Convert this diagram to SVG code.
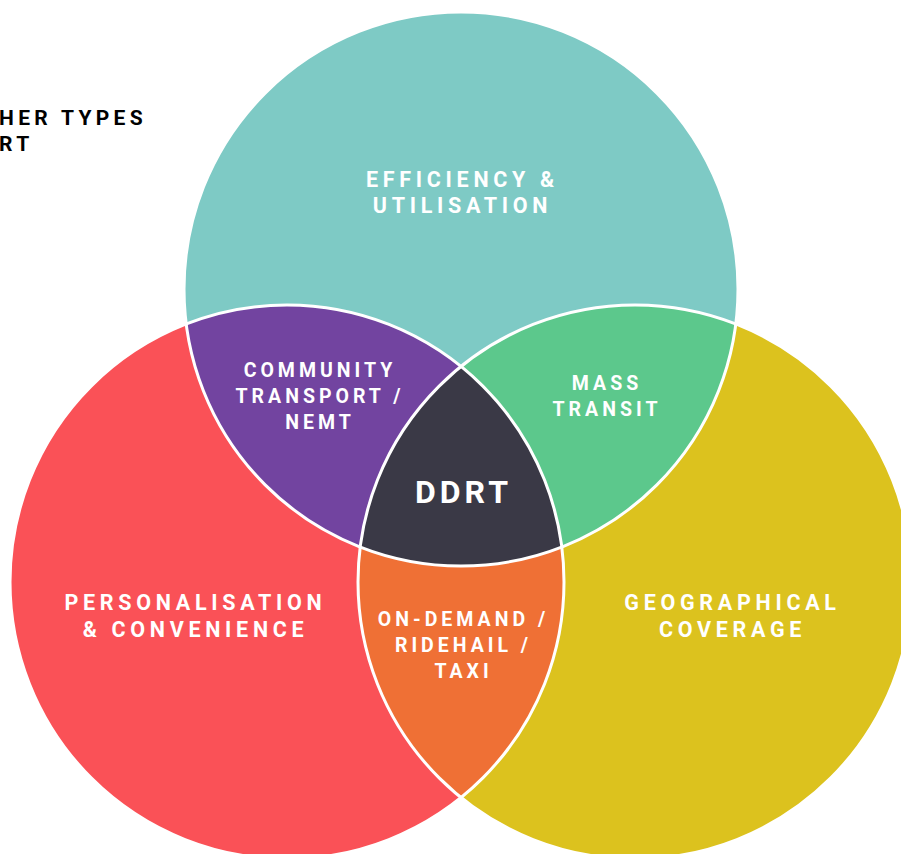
<svg xmlns="http://www.w3.org/2000/svg" width="901" height="854" viewBox="0 0 901 854">
  <style>
    .lbl { font-family: Roboto, "Liberation Sans", sans-serif; font-weight: 700; fill: #ffffff; text-anchor: middle; letter-spacing: 4.7px; font-size: 21.5px; }
    .lbl-sm { font-size: 19.5px; letter-spacing: 4px; }
    .core { font-size: 32px; letter-spacing: 4px; }
    .title { font-family: Roboto, "Liberation Sans", sans-serif; font-weight: 700; fill: #000000; font-size: 21px; letter-spacing: 4.3px; }
    .ring { fill: none; stroke: #ffffff; stroke-width: 3; }
  </style>
  <rect width="901" height="854" fill="#ffffff"/>

  <!-- heading, partially outside the canvas -->
  <g id="heading">
    <text class="title" x="-1" y="125">HER TYPES</text>
    <text class="title" x="-1" y="151">RT</text>
  </g>

  <!-- base circles -->
  <g id="circle-efficiency">
    <circle cx="461" cy="289" r="277" fill="#7ecac5"/>
  </g>
  <g id="circle-personalisation">
    <circle cx="287" cy="582" r="277" fill="#fa5157"/>
  </g>
  <g id="circle-geographical">
    <circle cx="635" cy="582" r="277" fill="#dcc21e"/>
  </g>

  <!-- pairwise overlaps -->
  <g id="overlap-community">
    <path d="M186.2 324 A277 277 0 0 1 461 366.5 A277 277 0 0 0 360.2 547 A277 277 0 0 1 186.2 324 Z" fill="#7244a0"/>
  </g>
  <g id="overlap-mass-transit">
    <path d="M735.8 324 A277 277 0 0 0 461 366.5 A277 277 0 0 1 561.8 547 A277 277 0 0 0 735.8 324 Z" fill="#5cc88c"/>
  </g>
  <g id="overlap-on-demand">
    <path d="M360.2 547 A277 277 0 0 0 461 797.5 A277 277 0 0 0 561.8 547 A277 277 0 0 1 360.2 547 Z" fill="#ef7035"/>
  </g>
  <!-- triple overlap -->
  <g id="overlap-ddrt">
    <path d="M461 366.5 A277 277 0 0 0 360.2 547 A277 277 0 0 0 561.8 547 A277 277 0 0 0 461 366.5 Z" fill="#3a3946"/>
  </g>

  <!-- white outlines of the three sets -->
  <g id="connectors">
    <circle class="ring" cx="461" cy="289" r="277"/>
    <circle class="ring" cx="287" cy="582" r="277"/>
    <circle class="ring" cx="635" cy="582" r="277"/>
  </g>

  <!-- labels -->
  <g id="labels">
    <text class="lbl" x="462.5" y="187">EFFICIENCY &amp;</text>
    <text class="lbl" x="462.5" y="213">UTILISATION</text>

    <text class="lbl lbl-sm" x="320" y="377">COMMUNITY</text>
    <text class="lbl lbl-sm" x="320" y="403">TRANSPORT /</text>
    <text class="lbl lbl-sm" x="320" y="429">NEMT</text>

    <text class="lbl lbl-sm" x="607" y="390">MASS</text>
    <text class="lbl lbl-sm" x="607" y="416">TRANSIT</text>

    <text class="lbl core" x="463.5" y="503">DDRT</text>

    <text class="lbl lbl-sm" x="463.5" y="626">ON-DEMAND /</text>
    <text class="lbl lbl-sm" x="463.5" y="652">RIDEHAIL /</text>
    <text class="lbl lbl-sm" x="463.5" y="678">TAXI</text>

    <text class="lbl" x="195.5" y="610">PERSONALISATION</text>
    <text class="lbl" x="195.5" y="637">&amp; CONVENIENCE</text>

    <text class="lbl" x="732.5" y="610">GEOGRAPHICAL</text>
    <text class="lbl" x="732.5" y="637">COVERAGE</text>
  </g>
</svg>
